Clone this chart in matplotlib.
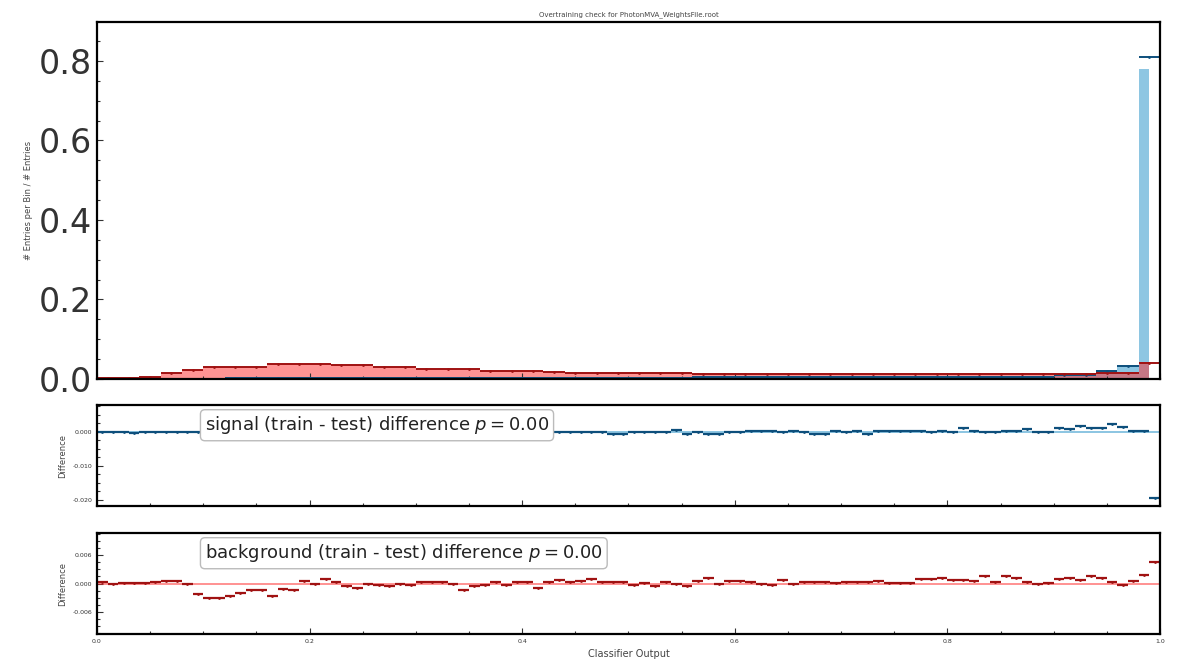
import numpy as np
import matplotlib
matplotlib.use("Agg")
import matplotlib.pyplot as plt
from matplotlib.ticker import AutoMinorLocator, FormatStrFormatter

# normalised classifier-output histograms, 50 bins on [0, 1]
sig_test = [0.001, 0.001, 0.001, 0.001, 0.001, 0.001, 0.002, 0.002, 0.002, 0.002,
            0.002, 0.002, 0.002, 0.002, 0.002, 0.002, 0.002, 0.002, 0.002, 0.002,
            0.002, 0.002, 0.002, 0.003, 0.003, 0.003, 0.003, 0.003, 0.004, 0.004,
            0.004, 0.004, 0.004, 0.004, 0.004, 0.004, 0.004, 0.005, 0.005, 0.006,
            0.006, 0.006, 0.006, 0.006, 0.006, 0.010, 0.010, 0.021, 0.033, 0.810]
sig_train = [0.001, 0.001, 0.001, 0.001, 0.001, 0.001, 0.002, 0.002, 0.002, 0.002,
             0.002, 0.002, 0.002, 0.002, 0.002, 0.002, 0.002, 0.002, 0.002, 0.002,
             0.002, 0.002, 0.002, 0.003, 0.003, 0.003, 0.003, 0.003, 0.004, 0.004,
             0.004, 0.004, 0.004, 0.004, 0.004, 0.004, 0.004, 0.005, 0.005, 0.006,
             0.006, 0.006, 0.006, 0.006, 0.006, 0.010, 0.011, 0.023, 0.035, 0.780]
bkg_test = [0.002, 0.002, 0.006, 0.016, 0.023, 0.031, 0.031, 0.031, 0.038, 0.038,
            0.038, 0.036, 0.036, 0.031, 0.029, 0.024, 0.024, 0.024, 0.021, 0.021,
            0.021, 0.018, 0.016, 0.016, 0.016, 0.016, 0.016, 0.016, 0.013, 0.013,
            0.013, 0.013, 0.013, 0.012, 0.012, 0.012, 0.012, 0.012, 0.012, 0.012,
            0.012, 0.012, 0.012, 0.012, 0.012, 0.012, 0.013, 0.014, 0.015, 0.039]
bkg_train = [0.002, 0.002, 0.006, 0.016, 0.022, 0.029, 0.030, 0.030, 0.037, 0.038,
             0.038, 0.036, 0.036, 0.031, 0.029, 0.024, 0.024, 0.024, 0.021, 0.021,
             0.021, 0.018, 0.016, 0.016, 0.016, 0.016, 0.016, 0.016, 0.013, 0.013,
             0.013, 0.013, 0.013, 0.012, 0.012, 0.012, 0.012, 0.012, 0.012, 0.012,
             0.012, 0.012, 0.012, 0.012, 0.013, 0.013, 0.014, 0.015, 0.017, 0.043]

# train - test differences, 100 bins on [0, 1]
sig_diff = [0.0000, -0.0001, 0.0000, -0.0002, -0.0001, 0.0000, 0.0000, -0.0001, 0.0000, -0.0001,
            0.0000, 0.0001, 0.0000, -0.0001, 0.0000, 0.0000, 0.0001, 0.0000, -0.0001, 0.0000,
            0.0000, 0.0001, 0.0000, 0.0000, -0.0001, 0.0000, 0.0001, 0.0000, 0.0000, -0.0001,
            0.0000, 0.0000, 0.0001, 0.0000, -0.0001, 0.0000, 0.0000, 0.0001, 0.0000, 0.0000,
            -0.0001, 0.0000, 0.0001, 0.0000, 0.0000, 0.0000, 0.0000, 0.0000, -0.0006, -0.0006,
            0.0000, 0.0000, 0.0000, 0.0000, 0.0006, -0.0006, 0.0000, -0.0006, -0.0006, 0.0000,
            0.0000, 0.0003, 0.0003, 0.0003, 0.0000, 0.0003, 0.0000, -0.0006, -0.0006, 0.0003,
            0.0000, 0.0003, -0.0005, 0.0003, 0.0003, 0.0003, 0.0003, 0.0003, 0.0000, 0.0003,
            0.0000, 0.0011, 0.0003, 0.0000, 0.0000, 0.0003, 0.0003, 0.0008, 0.0000, 0.0000,
            0.0012, 0.0008, 0.0017, 0.0012, 0.0012, 0.0022, 0.0015, 0.0004, 0.0004, -0.0195]
bkg_diff = [0.0003, 0.0000, 0.0002, 0.0002, 0.0002, 0.0004, 0.0006, 0.0006, -0.0001, -0.0023,
            -0.0031, -0.0031, -0.0027, -0.0021, -0.0014, -0.0014, -0.0026, -0.0011, -0.0013, 0.0006,
            0.0000, 0.0010, 0.0003, -0.0006, -0.0010, 0.0000, -0.0003, -0.0006, 0.0000, -0.0003,
            0.0003, 0.0003, 0.0003, -0.0001, -0.0014, -0.0006, -0.0003, 0.0004, -0.0004, 0.0003,
            0.0003, -0.0009, 0.0003, 0.0007, 0.0003, 0.0005, 0.0009, 0.0004, 0.0004, 0.0004,
            -0.0003, 0.0001, -0.0006, 0.0004, -0.0002, -0.0006, 0.0006, 0.0011, -0.0002, 0.0006,
            0.0006, 0.0003, 0.0000, -0.0003, 0.0007, 0.0000, 0.0003, 0.0003, 0.0003, 0.0001,
            0.0003, 0.0003, 0.0003, 0.0006, 0.0002, 0.0002, 0.0002, 0.0009, 0.0009, 0.0011,
            0.0007, 0.0007, 0.0005, 0.0016, 0.0004, 0.0017, 0.0011, 0.0004, -0.0002, 0.0001,
            0.0009, 0.0011, 0.0007, 0.0016, 0.0011, 0.0004, -0.0004, 0.0006, 0.0019, 0.0047]

SIG_FILL = '#1f8fc7'
SIG_LINE = '#0d4f7c'
BKG_FILL = '#ff2a2a'
BKG_LINE = '#a01212'


def centers(n):
    edges = np.linspace(0, 1, n + 1)
    return 0.5 * (edges[:-1] + edges[1:]), 0.5 / n


def style_axis(ax):
    for s in ax.spines.values():
        s.set_linewidth(1.6)
    ax.tick_params(which='both', direction='in', colors='#333333', width=0.8)
    ax.tick_params(which='major', length=4)
    ax.tick_params(which='minor', length=2)
    ax.xaxis.set_minor_locator(AutoMinorLocator(4))
    ax.yaxis.set_minor_locator(AutoMinorLocator(4))
    ax.set_xlim(0, 1)


fig = plt.figure(figsize=(11.78, 6.6), dpi=100)
ax_top = fig.add_axes([0.0823, 0.4258, 0.9024, 0.5409])
ax_sig = fig.add_axes([0.0823, 0.2333, 0.9024, 0.1530])
ax_bkg = fig.add_axes([0.0823, 0.0394, 0.9024, 0.1530])

# main distribution
x50, hw50 = centers(len(sig_test))
ax_top.fill_between(x50, sig_train, step='mid', color=SIG_FILL, alpha=0.5, lw=0)
ax_top.fill_between(x50, bkg_train, step='mid', color=BKG_FILL, alpha=0.5, lw=0)
ax_top.errorbar(x50, sig_test, xerr=hw50, fmt='.', ms=2, color=SIG_LINE, lw=1.4)
ax_top.errorbar(x50, bkg_test, xerr=hw50, fmt='.', ms=2, color=BKG_LINE, lw=1.4)
style_axis(ax_top)
ax_top.set_ylim(0, 0.898)
ax_top.set_yticks([0.0, 0.2, 0.4, 0.6, 0.8])
ax_top.tick_params(axis='y', labelsize=24)
ax_top.tick_params(axis='x', labelbottom=False)
ax_top.set_ylabel('# Entries per Bin / # Entries', fontsize=6, color='#444444')
ax_top.set_title('Overtraining check for PhotonMVA_WeightsFile.root', fontsize=5,
                 color='#444444', pad=4)

# differences
x100, hw100 = centers(len(sig_diff))
for ax, diff, line, fill, label in [
        (ax_sig, sig_diff, SIG_LINE, SIG_FILL, 'signal'),
        (ax_bkg, bkg_diff, BKG_LINE, BKG_FILL, 'background')]:
    ax.axhline(0, color=fill, alpha=0.6, lw=1.2)
    ax.errorbar(x100, diff, xerr=hw100, fmt='.', ms=2, color=line, lw=1.6)
    style_axis(ax)
    ax.yaxis.set_major_formatter(FormatStrFormatter('%.3f'))
    ax.tick_params(axis='both', labelsize=4.5)
    ax.set_ylabel('Difference', fontsize=6, color='#444444')
    ax.text(0.1016, 0.80, f'{label} (train - test) difference $p = 0.00$',
            transform=ax.transAxes, fontsize=13, color='#222222', va='center',
            bbox=dict(boxstyle='round,pad=0.25', fc='white', ec='#bbbbbb', lw=1))

ax_sig.set_ylim(-0.0218, 0.0079)
ax_sig.set_yticks([0.0, -0.010, -0.020])
ax_sig.tick_params(axis='x', labelbottom=False)
ax_bkg.set_ylim(-0.0108, 0.0108)
ax_bkg.set_yticks([-0.006, 0.0, 0.006])
ax_bkg.set_xticks([0.0, 0.2, 0.4, 0.6, 0.8, 1.0])
ax_bkg.xaxis.set_major_formatter(FormatStrFormatter('%.1f'))
ax_bkg.set_xlabel('Classifier Output', fontsize=7, color='#444444', labelpad=4)

fig.savefig('out.png', dpi=100)
